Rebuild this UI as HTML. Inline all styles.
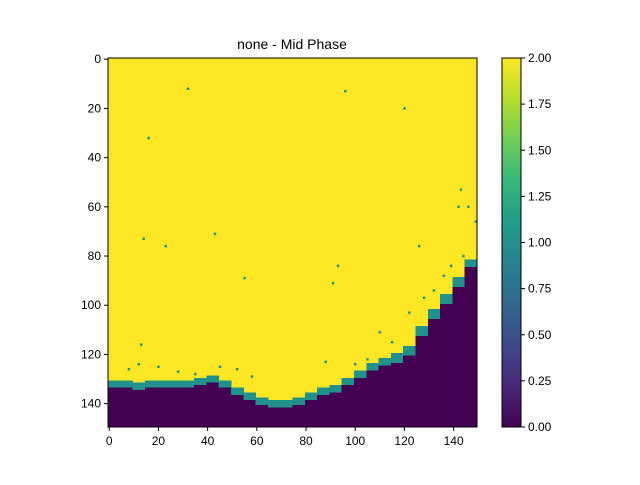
<!DOCTYPE html>
<html><head><meta charset="utf-8"><style>
body{margin:0;background:#fff;font-family:"Liberation Sans",sans-serif}
</style></head><body>
<svg id="c" width="640" height="480" xmlns="http://www.w3.org/2000/svg"></svg>
<script>
const boundaryRows=[134,134,135,134,134,134,134,133,132,134,137,139,141,142,142,141,139,137,136,133,130,127,125,124,121,113,106,100,93,85];
const fringeDepth=[3,3,3,3,3,3,3,3,3,3,3,3,3,3,3,3,3,3,3,3,3,3,3,4,4,4,4,4,4,3];
const speckCols=[32,96,120,16,14,23,43,55,93,91,13,143,142,146,149,126,8,12,20,28,35,45,52,58,88,100,105,110,115,122,128,132,136,139,144];
const speckRows=[12,13,20,32,73,76,71,89,84,91,116,53,60,60,66,76,126,124,125,127,128,125,126,129,123,124,122,111,115,103,97,94,88,84,80];
const yTicks=[0,20,40,60,80,100,120,140];
const xTicks=[0,20,40,60,80,100,120,140];
const cbTicks=[0,0.25,0.5,0.75,1,1.25,1.5,1.75,2];
const N=150,segW=5;
const x0=108,y0=58,W=369,H=369;
const sx=c=>x0+c*W/N, sy=r=>y0+r*H/N;
const cbY=v=>427-v/2*369;
const svg=document.getElementById('c');
const NS="http://www.w3.org/2000/svg";
function mk(t,a,p){const e=document.createElementNS(NS,t);for(const k in a)e.setAttribute(k,a[k]);(p||svg).appendChild(e);return e;}
const defs=mk('defs',{});
const g=mk('linearGradient',{id:'vir',x1:0,y1:1,x2:0,y2:0},defs);
['#440154','#482878','#3e4989','#31688e','#26828e','#1f9e89','#35b779','#6ece58','#b5de2b','#fde725'].forEach((c,i)=>mk('stop',{offset:i/9,'stop-color':c},g));
let t=mk('text',{x:292,y:49,'text-anchor':'middle','font-size':14,fill:'#000'});t.textContent='none - Mid Phase';


let bg=mk('rect',{x:x0,y:y0,width:W,height:H,fill:'#fde725'});


boundaryRows.forEach((b,i)=>{
  const c=i*segW;
  const f=mk('rect',{x:sx(c),y:sy(b-fringeDepth[i]),width:W/N*segW+0.5,height:sy(N)-sy(b-fringeDepth[i]),fill:'#21918c','shape-rendering':'crispEdges'});
  
  
  const r=mk('rect',{x:sx(c),y:sy(b),width:W/N*segW+0.5,height:sy(N)-sy(b),fill:'#440154','shape-rendering':'crispEdges'});
  
  
});
speckCols.forEach((c,i)=>{
  const r=mk('rect',{x:sx(c),y:sy(speckRows[i]),width:W/N,height:H/N,fill:'#21918c'});
  
  
});
mk('rect',{x:x0,y:y0,width:W,height:H,fill:'none',stroke:'#000','stroke-width':1});
yTicks.forEach(v=>{const y=sy(v+0.5);mk('line',{x1:x0-4,x2:x0,y1:y,y2:y,stroke:'#000'});
  const l=mk('text',{x:x0-7,y:y+4,'text-anchor':'end','font-size':12});l.textContent=v;
  
  });
xTicks.forEach(v=>{const x=sx(v+0.5);mk('line',{x1:x,x2:x,y1:y0+H,y2:y0+H+4,stroke:'#000'});
  const l=mk('text',{x:x,y:y0+H+18,'text-anchor':'middle','font-size':12});l.textContent=v;
  
  });
const cb=mk('rect',{x:502,y:58,width:19,height:369,fill:'url(#vir)',stroke:'#000','stroke-width':1});


cbTicks.forEach(v=>{const y=cbY(v);mk('line',{x1:521,x2:525,y1:y,y2:y,stroke:'#000'});
  const l=mk('text',{x:528,y:y+4,'font-size':12});l.textContent=v.toFixed(2);
  
  });
</script>
</body></html>
